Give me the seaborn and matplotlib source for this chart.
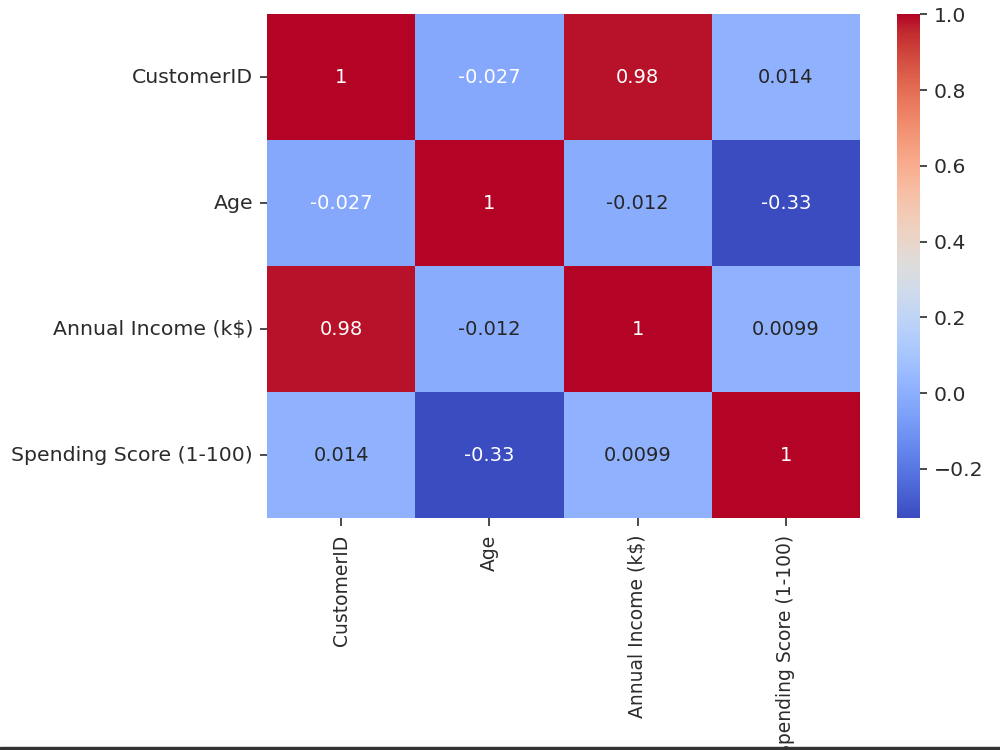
import numpy as np
import pandas as pd
import matplotlib
matplotlib.use("Agg")
import matplotlib.pyplot as plt
import seaborn as sns

columns = ["CustomerID", "Age", "Annual Income (k$)", "Spending Score (1-100)"]
row_customer = [1.0, -0.027, 0.98, 0.014]
row_age = [-0.027, 1.0, -0.012, -0.33]
row_income = [0.98, -0.012, 1.0, 0.0099]
row_spending = [0.014, -0.33, 0.0099, 1.0]

corr = pd.DataFrame([row_customer, row_age, row_income, row_spending],
                    index=columns, columns=columns)

plt.rcParams["font.family"] = ["DejaVu Sans"]
plt.rcParams["text.color"] = "#2b2b2b"
plt.rcParams["xtick.color"] = "#2b2b2b"
plt.rcParams["ytick.color"] = "#2b2b2b"

fig = plt.figure(figsize=(10, 7.5), dpi=100)
ax = fig.add_axes([0.267, 0.309, 0.593, 0.672])
cax = fig.add_axes([0.897, 0.309, 0.023, 0.672])

sns.heatmap(corr, annot=True, cmap="coolwarm", ax=ax, cbar_ax=cax,
            annot_kws={"fontsize": 14})

ax.tick_params(axis="y", labelsize=14.7, length=5, width=1.2, pad=5)
ax.tick_params(axis="x", labelsize=13.5, length=6, width=1.2, pad=6)
ax.set_xticklabels(ax.get_xticklabels(), rotation=90)
ax.set_yticklabels(ax.get_yticklabels(), rotation=0)
cax.tick_params(labelsize=14.7, length=5, width=1.2, pad=5)
cax.set_yticks([-0.2, 0.0, 0.2, 0.4, 0.6, 0.8, 1.0])

# dark strip along the bottom edge of the original screenshot
fig.patches.append(plt.Rectangle((0, 0), 1, 0.004, transform=fig.transFigure,
                                 color="#333333", zorder=10))

fig.savefig("out.png", dpi=100)
